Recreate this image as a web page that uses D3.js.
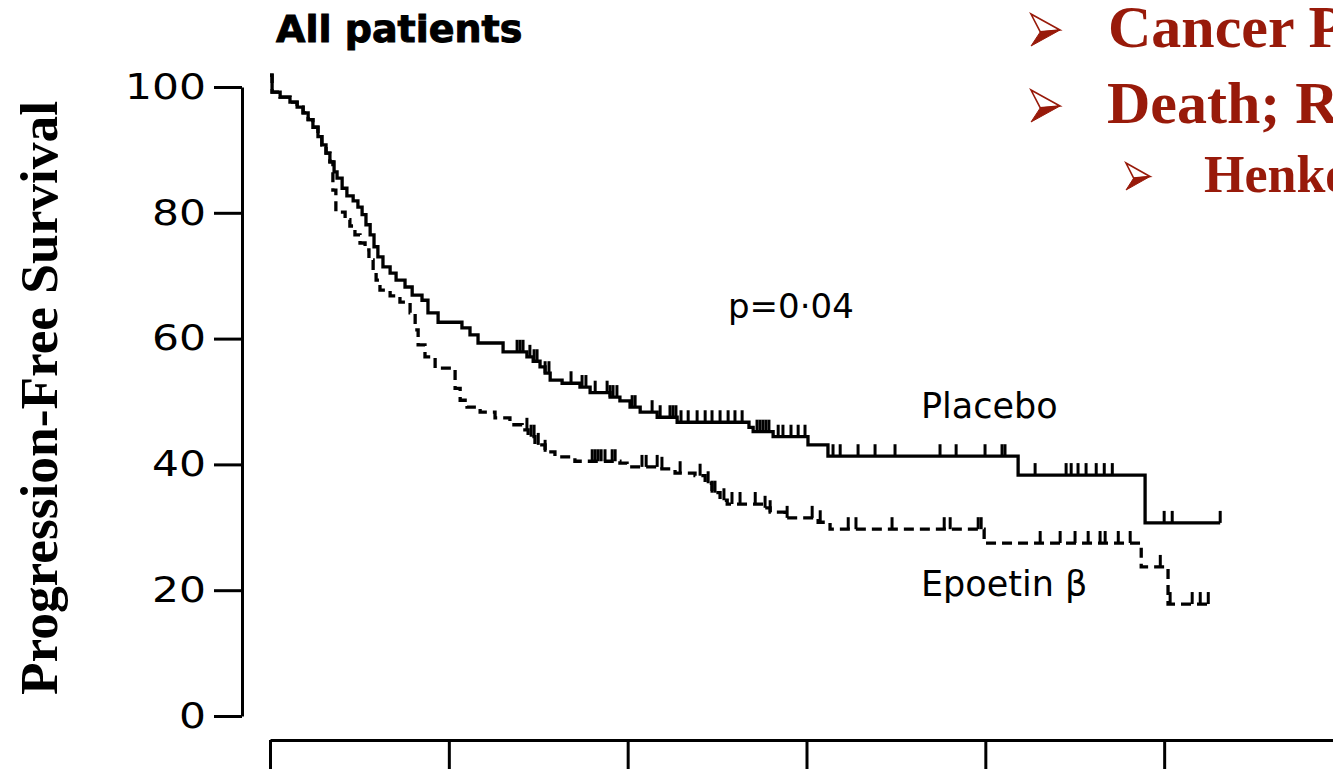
<!DOCTYPE html>
<html>
<head>
<meta charset="utf-8">
<script src="https://cdn.jsdelivr.net/npm/d3@7"></script>
<style>
  body { margin: 0; background: #fff; overflow: hidden; }
  svg { display: block; }
</style>
</head>
<body>
<div id="chart"></div>
<script>
  // Kaplan-Meier steps (months, % progression-free)
  const placeboTime = [0, 0.07, 0.34, 0.67, 0.91, 1.11, 1.28, 1.44, 1.61, 1.74, 1.88, 2.01, 2.15, 2.25, 2.42, 2.58,
    2.79, 2.95, 3.09, 3.22, 3.36, 3.49, 3.62, 3.79, 4.03, 4.23, 4.53, 4.77, 5.10, 5.30, 5.64, 6.44, 6.71, 6.98,
    7.82, 8.62, 8.83, 9.06, 9.23, 9.40, 9.80, 10.40, 10.74, 11.41, 11.74, 12.08, 12.42, 12.99, 13.66, 16.07,
    16.21, 16.88, 18.05, 18.72, 25.10, 29.36];
  const placeboSurv = [101.9, 99.2, 98.4, 97.6, 96.8, 95.9, 94.8, 93.6, 92.1, 90.8, 89.5, 88.1, 86.5, 85.5, 83.9, 82.7,
    81.9, 80.9, 79.7, 78.1, 76.5, 74.6, 73.0, 71.4, 70.4, 69.3, 68.2, 66.9, 66.1, 64.1, 62.6, 61.7, 60.6, 59.3,
    57.9, 57.1, 56.4, 55.5, 54.5, 53.4, 52.9, 52.3, 51.4, 50.7, 50.1, 49.1, 48.3, 47.5, 46.7, 45.9,
    45.2, 44.4, 43.1, 41.3, 38.3, 30.7];
  const placeboEnd = 31.88;
  const placeboCensor = [8.29, 8.39, 8.49, 8.72, 8.86, 8.96, 9.23, 9.36, 10.10, 10.47, 10.60, 10.91, 11.31, 11.41,
    11.51, 11.64, 12.15, 12.25, 12.82, 13.09, 13.42, 13.52, 13.62, 13.79, 14.03, 14.33, 14.60, 14.83, 15.10,
    15.37, 15.60, 15.84, 16.34, 16.44, 16.54, 16.64, 16.74, 17.05, 17.21, 17.48, 17.72, 17.95, 18.89, 19.13,
    19.73, 20.30, 20.97, 22.48, 23.02, 23.99, 24.56, 24.66, 25.67, 26.71, 26.88, 27.11, 27.38, 27.72, 27.99,
    28.26, 30.00, 30.27, 31.88];

  const epoetinTime = [0, 0.07, 0.34, 0.67, 0.91, 1.11, 1.28, 1.44, 1.61, 1.74, 1.88, 2.01, 2.11, 2.21, 2.52, 2.68,
    2.85, 3.02, 3.19, 3.32, 3.46, 3.56, 3.69, 4.03, 4.36, 4.70, 4.87, 4.97, 5.20, 5.54, 6.21, 6.38, 6.61, 7.05,
    7.55, 8.05, 8.46, 8.66, 8.89, 9.23, 9.56, 10.23, 11.74, 11.98, 13.09, 13.59, 14.26, 14.60, 14.83, 15.10,
    15.34, 16.61, 16.78, 17.28, 18.39, 18.79, 23.96, 29.23, 30.13];
  const epoetinSurv = [101.9, 99.2, 98.4, 97.6, 96.8, 95.9, 94.8, 93.6, 92.1, 90.8, 89.5, 88.1, 83.6, 80.1, 78.9, 77.9,
    76.5, 75.2, 74.1, 72.5, 70.9, 69.3, 67.7, 66.8, 65.8, 64.1, 61.4, 59.0, 57.1, 55.3, 52.1, 50.2, 49.1, 48.3,
    47.4, 46.3, 45.5, 44.4, 43.1, 42.0, 41.2, 40.5, 40.2, 39.6, 39.3, 38.6, 38.2, 37.0, 35.5, 34.3,
    33.7, 33.1, 32.4, 31.5, 30.8, 29.7, 27.5, 23.7, 17.8];
  const epoetinEnd = 31.54;
  const epoetinCensor = [8.62, 8.76, 8.86, 9.0, 9.23, 10.81, 10.91, 11.01, 11.11, 11.24, 11.48, 11.58, 12.48, 12.62,
    12.99, 13.15, 13.76, 14.43, 14.70, 14.83, 14.93, 15.23, 15.50, 15.77, 16.28, 16.61, 16.78, 17.35, 18.19,
    18.46, 19.40, 19.66, 20.87, 22.62, 22.82, 23.76, 23.86, 25.84, 26.51, 27.01, 27.45, 27.85, 28.02, 28.46,
    28.86, 29.87, 30.20, 30.94, 31.21, 31.48];

  const yTicks = [0, 20, 40, 60, 80, 100];
  const xTicks = [0, 6, 12, 18, 24, 30, 36];

  const bulletTexts = ["Cancer Progression", "Death; RR", "Henke et al."];

  const width = 1333, height = 769;
  const svg = d3.select("#chart").append("svg")
    .attr("width", width)
    .attr("height", height);

  const x = d3.scaleLinear().domain([0, 36]).range([270, 1343]);
  const y = d3.scaleLinear().domain([0, 100]).range([716, 87]);

  // y axis
  const yAxis = svg.append("g")
    .attr("transform", "translate(242,0)")
    .call(d3.axisLeft(y).tickValues(yTicks).tickSize(28).tickSizeOuter(0).tickPadding(8));
  yAxis.selectAll("path, line").attr("stroke", "#000").attr("stroke-width", 3);
  yAxis.selectAll("text")
    .attr("fill", "#000")
    .style("font-family", "DejaVu Sans")
    .style("font-size", "35px")
    .attr("textLength", d => String(d).length * 27)
    .attr("lengthAdjust", "spacingAndGlyphs");

  // x axis (labels fall below the visible area)
  const xAxis = svg.append("g")
    .attr("transform", "translate(0,740)")
    .call(d3.axisBottom(x).tickValues(xTicks).tickSize(34).tickSizeOuter(0).tickFormat(""));
  xAxis.selectAll("path, line").attr("stroke", "#000").attr("stroke-width", 3);

  function stepPoints(times, surv, end) {
    const pts = times.map((t, i) => [t, surv[i]]);
    pts.push([end, surv[surv.length - 1]]);
    return pts;
  }
  function survAt(times, surv, t) {
    const i = d3.bisectRight(times, t) - 1;
    return surv[Math.max(0, i)];
  }

  const line = d3.line()
    .x(d => x(d[0]))
    .y(d => y(d[1]))
    .curve(d3.curveStepAfter);

  const curves = svg.append("g").attr("fill", "none").attr("stroke", "#000");

  curves.append("path")
    .datum(stepPoints(epoetinTime, epoetinSurv, epoetinEnd))
    .attr("d", line)
    .attr("stroke-width", 3.3)
    .attr("stroke-dasharray", "10,6");

  curves.append("path")
    .datum(stepPoints(placeboTime, placeboSurv, placeboEnd))
    .attr("d", line)
    .attr("stroke-width", 3.3);

  // censor marks
  curves.append("g").selectAll("line")
    .data(placeboCensor)
    .join("line")
    .attr("x1", d => x(d)).attr("x2", d => x(d))
    .attr("y1", d => y(survAt(placeboTime, placeboSurv, d)))
    .attr("y2", d => y(survAt(placeboTime, placeboSurv, d)) - 12)
    .attr("stroke-width", 3);

  curves.append("g").selectAll("line")
    .data(epoetinCensor)
    .join("line")
    .attr("x1", d => x(d)).attr("x2", d => x(d))
    .attr("y1", d => y(survAt(epoetinTime, epoetinSurv, d)))
    .attr("y2", d => y(survAt(epoetinTime, epoetinSurv, d)) - 12)
    .attr("stroke-width", 3);

  // texts
  svg.append("text")
    .attr("x", 276).attr("y", 42)
    .attr("stroke", "#000").attr("stroke-width", 1)
    .style("font-family", "DejaVu Sans").style("font-weight", "bold").style("font-size", "38px")
    .text("All patients");

  svg.append("text")
    .attr("transform", "translate(57,398) rotate(-90)")
    .attr("text-anchor", "middle")
    .style("font-family", "Liberation Serif").style("font-weight", "bold").style("font-size", "53px")
    .attr("textLength", 594).attr("lengthAdjust", "spacingAndGlyphs")
    .text("Progression-Free Survival");

  svg.append("text").attr("x", 728).attr("y", 318)
    .style("font-family", "DejaVu Sans").style("font-size", "34px").text("p=0\u00b704");
  svg.append("text").attr("x", 921).attr("y", 418)
    .style("font-family", "DejaVu Sans").style("font-size", "35px").text("Placebo");
  svg.append("text").attr("x", 921).attr("y", 596)
    .style("font-family", "DejaVu Sans").style("font-size", "35px").text("Epoetin \u03b2");

  // red bullet text at top right
  const red = "#981a0a";
  const rows = [
    {ax: 1031, ay: 14, aw: 29, ah: 32, tx: 1108, ty: 47, size: 60},
    {ax: 1031, ay: 90, aw: 29, ah: 32, tx: 1107, ty: 123, size: 60},
    {ax: 1126, ay: 163, aw: 24, ah: 27, tx: 1204, ty: 192, size: 52}
  ];
  const bullets = svg.append("g");
  rows.forEach((r, i) => {
    const g = bullets.append("g").attr("transform", `translate(${r.ax},${r.ay}) scale(${r.aw},${r.ah})`);
    // arrowhead: outlined upper half, filled lower half
    g.append("path")
      .attr("d", "M0,0 L1,0.5 L0.32,0.56 Z")
      .attr("fill", "#fff").attr("stroke", red)
      .attr("stroke-width", 1.6).attr("vector-effect", "non-scaling-stroke");
    g.append("path")
      .attr("d", "M0.32,0.56 L1,0.5 L0,1 Z")
      .attr("fill", red).attr("stroke", red)
      .attr("stroke-width", 1).attr("vector-effect", "non-scaling-stroke");
    bullets.append("text")
      .attr("x", r.tx).attr("y", r.ty)
      .attr("fill", red)
      .style("font-family", "Liberation Serif").style("font-weight", "bold")
      .style("font-size", r.size + "px")
      .text(bulletTexts[i]);
  });
</script>
</body>
</html>
